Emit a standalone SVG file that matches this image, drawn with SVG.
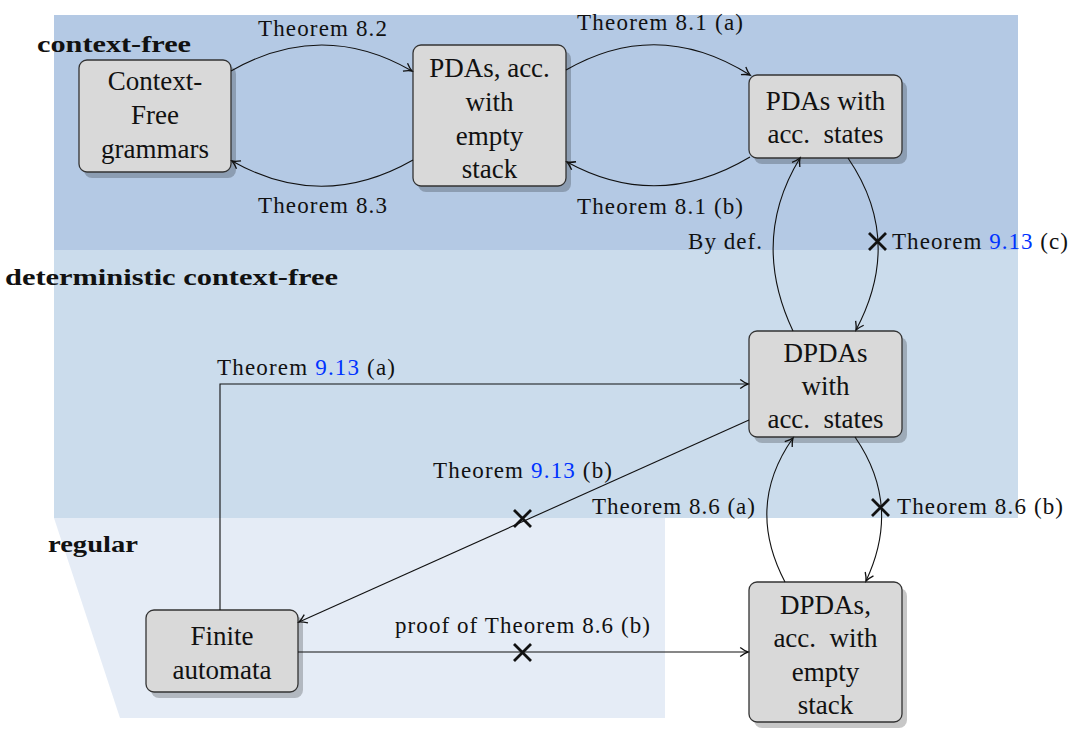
<svg xmlns="http://www.w3.org/2000/svg" width="1072" height="738" viewBox="0 0 1072 738" font-family="Liberation Serif, DejaVu Serif, serif">
<style>
.node rect.box{fill:#d9d9d9;stroke:#333;stroke-width:1.3}
.node rect.sh{fill:#000;fill-opacity:0.22}
.nt{font-size:27px;text-anchor:middle;fill:#111}
.lb{font-size:23px;fill:#111}
.rg{font-size:24px;font-weight:bold;fill:#111}
.blue{fill:#0033ff}
.edge{fill:none;stroke:#111;stroke-width:1.1}
.cross{stroke:#111;stroke-width:2.8;fill:none}
</style>
<defs>
<marker id="ah" markerUnits="userSpaceOnUse" markerWidth="12" markerHeight="12" viewBox="-8 -5 10 10" refX="0" refY="0" orient="auto">
<path d="M-6.5,-3.8 Q-2.5,-0.8 0,0 Q-2.5,0.8 -6.5,3.8" fill="none" stroke="#111" stroke-width="1.1"/>
</marker>
</defs>
<g id="regions">
<rect x="54" y="15" width="964" height="235" fill="#b4c9e4"/>
<rect x="54" y="250" width="964" height="268" fill="#cbdcec"/>
<polygon points="54,518 665,518 665,718 120,718" fill="#e5ecf6"/>
<text class="rg" font-family="Liberation Serif, DejaVu Serif, serif" x="37" y="52" textLength="154" lengthAdjust="spacingAndGlyphs">context-free</text>
<text class="rg" font-family="Liberation Serif, DejaVu Serif, serif" x="5" y="285" textLength="333" lengthAdjust="spacingAndGlyphs">deterministic context-free</text>
<text class="rg" font-family="Liberation Serif, DejaVu Serif, serif" x="48" y="552" textLength="90" lengthAdjust="spacingAndGlyphs">regular</text>
</g>
<g id="n-cfg" class="node" font-family="Liberation Serif, DejaVu Serif, serif">
<rect class="sh" x="84" y="66" width="152" height="112" rx="8"/>
<rect class="box" x="79" y="60" width="152" height="112" rx="8"/>
<text class="nt" x="155" y="90">Context-</text>
<text class="nt" x="155" y="124">Free</text>
<text class="nt" x="155" y="158">grammars</text>
</g>
<g id="n-pdaes" class="node" font-family="Liberation Serif, DejaVu Serif, serif">
<rect class="sh" x="418" y="51" width="153" height="141" rx="8"/>
<rect class="box" x="413" y="45" width="153" height="141" rx="8"/>
<text class="nt" x="489.5" y="77">PDAs, acc.</text>
<text class="nt" x="489.5" y="111">with</text>
<text class="nt" x="489.5" y="145">empty</text>
<text class="nt" x="489.5" y="178">stack</text>
</g>
<g id="n-pdaas" class="node" font-family="Liberation Serif, DejaVu Serif, serif">
<rect class="sh" x="754" y="81" width="153" height="83" rx="8"/>
<rect class="box" x="749" y="75" width="153" height="83" rx="8"/>
<text class="nt" x="825.5" y="110">PDAs with</text>
<text class="nt" x="825.5" y="143" xml:space="preserve">acc.  states</text>
</g>
<g id="n-dpdaas" class="node" font-family="Liberation Serif, DejaVu Serif, serif">
<rect class="sh" x="754" y="337" width="153" height="106" rx="8"/>
<rect class="box" x="749" y="331" width="153" height="106" rx="8"/>
<text class="nt" x="825.5" y="362">DPDAs</text>
<text class="nt" x="825.5" y="395">with</text>
<text class="nt" x="825.5" y="428" xml:space="preserve">acc.  states</text>
</g>
<g id="n-dpdaes" class="node" font-family="Liberation Serif, DejaVu Serif, serif">
<rect class="sh" x="754" y="588" width="153" height="140" rx="8"/>
<rect class="box" x="749" y="582" width="153" height="140" rx="8"/>
<text class="nt" x="825.5" y="614">DPDAs,</text>
<text class="nt" x="825.5" y="647" xml:space="preserve">acc.  with</text>
<text class="nt" x="825.5" y="681">empty</text>
<text class="nt" x="825.5" y="714">stack</text>
</g>
<g id="n-fa" class="node" font-family="Liberation Serif, DejaVu Serif, serif">
<rect class="sh" x="151" y="616" width="152" height="82" rx="8"/>
<rect class="box" x="146" y="610" width="152" height="82" rx="8"/>
<text class="nt" x="222" y="645">Finite</text>
<text class="nt" x="222" y="679">automata</text>
</g>
<g id="connectors" font-family="Liberation Serif, DejaVu Serif, serif">
<path class="edge" marker-end="url(#ah)" d="M231,71 Q322,19 412,71"/>
<path class="edge" marker-end="url(#ah)" d="M413,160 Q322,212 232,161"/>
<path class="edge" marker-end="url(#ah)" d="M566,70 Q658,17 750,75"/>
<path class="edge" marker-end="url(#ah)" d="M750,157 Q658,212 567,162"/>
<path class="edge" marker-end="url(#ah)" d="M793,331 Q750,240 800,158"/>
<path class="edge" marker-end="url(#ah)" d="M848,158 Q904,240 856,330"/>
<path class="edge" marker-end="url(#ah)" d="M220,610 L220,384 L748,384"/>
<path class="edge" marker-end="url(#ah)" d="M749,420 L299,622"/>
<path class="edge" marker-end="url(#ah)" d="M785,582 Q745,506 793,438"/>
<path class="edge" marker-end="url(#ah)" d="M855,437 Q902,505 866,581"/>
<path class="edge" marker-end="url(#ah)" d="M298,652 L748,652"/>
<path class="cross" d="M869,233 L886,250 M886,233 L869,250"/>
<path class="cross" d="M514,510 L531,527 M531,510 L514,527"/>
<path class="cross" d="M872,499 L889,516 M889,499 L872,516"/>
<path class="cross" d="M514,644 L531,661 M531,644 L514,661"/>
<text class="lb" x="258" y="36" textLength="129">Theorem 8.2</text>
<text class="lb" x="258" y="213" textLength="129">Theorem 8.3</text>
<text class="lb" x="577" y="30" textLength="166">Theorem 8.1 (a)</text>
<text class="lb" x="577" y="214" textLength="166">Theorem 8.1 (b)</text>
<text class="lb" x="688" y="249" textLength="74">By def.</text>
<text class="lb" x="892" y="249" textLength="176">Theorem <tspan class="blue">9.13</tspan> (c)</text>
<text class="lb" x="217" y="375" textLength="178">Theorem <tspan class="blue">9.13</tspan> (a)</text>
<text class="lb" x="433" y="478" textLength="179">Theorem <tspan class="blue">9.13</tspan> (b)</text>
<text class="lb" x="592" y="514" textLength="163">Theorem 8.6 (a)</text>
<text class="lb" x="897" y="514" textLength="166">Theorem 8.6 (b)</text>
<text class="lb" x="395" y="633" textLength="255">proof of Theorem 8.6 (b)</text>
</g>
</svg>
